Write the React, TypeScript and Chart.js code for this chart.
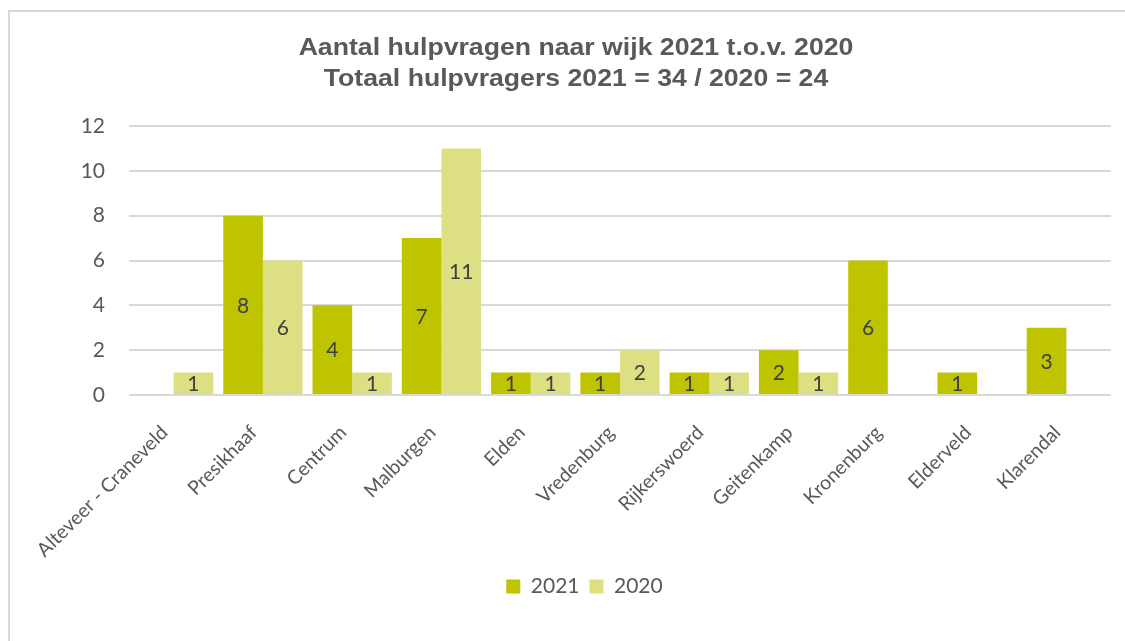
import React, { useEffect, useRef } from "react";
import { Chart, registerables } from "chart.js";

Chart.register(...registerables);

const categories = [
  "Alteveer - Craneveld",
  "Presikhaaf",
  "Centrum",
  "Malburgen",
  "Elden",
  "Vredenburg",
  "Rijkerswoerd",
  "Geitenkamp",
  "Kronenburg",
  "Elderveld",
  "Klarendal",
];
const values2021 = [0, 8, 4, 7, 1, 1, 1, 2, 6, 1, 3];
const values2020 = [1, 6, 1, 11, 1, 2, 1, 1, 0, 0, 0];
const seriesNames = ["2021", "2020"];
const titleLines = [
  "Aantal hulpvragen naar wijk 2021 t.o.v. 2020",
  "Totaal hulpvragers 2021 = 34 / 2020 = 24",
];
const yTicks = [0, 2, 4, 6, 8, 10, 12];

const COLOR_2021 = "#BFC400";
const COLOR_2020 = "#DCE083";
const LABEL_FONT = "Lato";
const LABEL_SIZE = 21;

const dataLabelPlugin = {
  id: "centerLabels",
  afterDatasetsDraw(chart: any) {
    const ctx = chart.ctx;
    ctx.save();
    ctx.font = `${LABEL_SIZE}px ${LABEL_FONT}`;
    ctx.fillStyle = "#404040";
    ctx.textAlign = "center";
    ctx.textBaseline = "middle";
    chart.data.datasets.forEach((ds: any, i: number) => {
      const meta = chart.getDatasetMeta(i);
      meta.data.forEach((bar: any, j: number) => {
        const v = ds.data[j];
        if (!v) return;
        ctx.fillText(String(v), bar.x, (bar.y + bar.base) / 2 + 1);
      });
    });
    ctx.restore();
  },
};

const titlePlugin = {
  id: "stretchedTitle",
  afterDraw(chart: any) {
    const ctx = chart.ctx;
    ctx.save();
    ctx.font = "bold 24px 'Liberation Sans'";
    ctx.fillStyle = "#595959";
    ctx.textAlign = "center";
    ctx.textBaseline = "middle";
    const ys = [48, 79];
    titleLines.forEach((line, i) => {
      ctx.save();
      ctx.translate(576, ys[i]);
      ctx.scale(1.11, 1);
      ctx.fillText(line, 0, 0);
      ctx.restore();
    });
    ctx.restore();
  },
};

const shiftPlugin = {
  id: "shiftLegend",
  afterLayout(chart: any) {
    if (chart.legend) {
      chart.legend.left += 29;
      chart.legend.right += 29;
    }
  },
};

export default function App() {
  const ref = useRef<HTMLCanvasElement>(null);
  useEffect(() => {
    if (!ref.current) return;
    const chart = new Chart(ref.current, {
      type: "bar",
      data: {
        labels: categories,
        datasets: [
          {
            label: seriesNames[0],
            data: values2021,
            backgroundColor: COLOR_2021,
            categoryPercentage: 0.888,
            barPercentage: 1,
          },
          {
            label: seriesNames[1],
            data: values2020,
            backgroundColor: COLOR_2020,
            categoryPercentage: 0.888,
            barPercentage: 1,
          },
        ],
      },
      options: {
        responsive: false,
        animation: false,
        layout: { padding: { top: 126, left: 0, right: 14, bottom: 34 } },
        plugins: {
          tooltip: { enabled: false },
          title: { display: false },
          legend: {
            display: true,
            position: "bottom",
            labels: {
              color: "#595959",
              font: { family: LABEL_FONT, size: LABEL_SIZE },
              boxWidth: 14,
              boxHeight: 14,
              padding: 10,
            },
          },
        },
        scales: {
          x: {
            grid: { display: false, drawTicks: false },
            border: { display: false },
            ticks: {
              color: "#595959",
              font: { family: LABEL_FONT, size: 19.5 },
              maxRotation: 45,
              minRotation: 45,
              padding: 26,
              labelOffset: -9,
              autoSkip: false,
            },
            afterFit(scale: any) {
              scale.height = 171;
            },
          },
          y: {
            min: 0,
            max: 12,
            afterBuildTicks(scale: any) {
              scale.ticks = yTicks.map((v) => ({ value: v }));
            },
            grid: { color: "#D9D9D9", lineWidth: 2, drawTicks: false },
            border: { display: false },
            ticks: {
              color: "#595959",
              font: { family: LABEL_FONT, size: LABEL_SIZE },
              padding: 24,
            },
            afterFit(scale: any) {
              scale.width = 129;
            },
          },
        },
      },
      plugins: [dataLabelPlugin, titlePlugin, shiftPlugin],
    });
    return () => chart.destroy();
  }, []);

  return (
    <div
      style={{
        position: "fixed",
        left: 0,
        top: 0,
        width: 1125,
        height: 641,
        background: "#fff",
        overflow: "hidden",
      }}
    >
      <div
        style={{
          position: "absolute",
          left: 8,
          top: 10,
          right: 0,
          bottom: -4,
          borderTop: "2px solid #D9D9D9",
          borderLeft: "2px solid #D9D9D9",
        }}
      />
      <canvas
        ref={ref}
        width={1125}
        height={641}
        style={{ position: "absolute", left: 0, top: 0 }}
      />
    </div>
  );
}
